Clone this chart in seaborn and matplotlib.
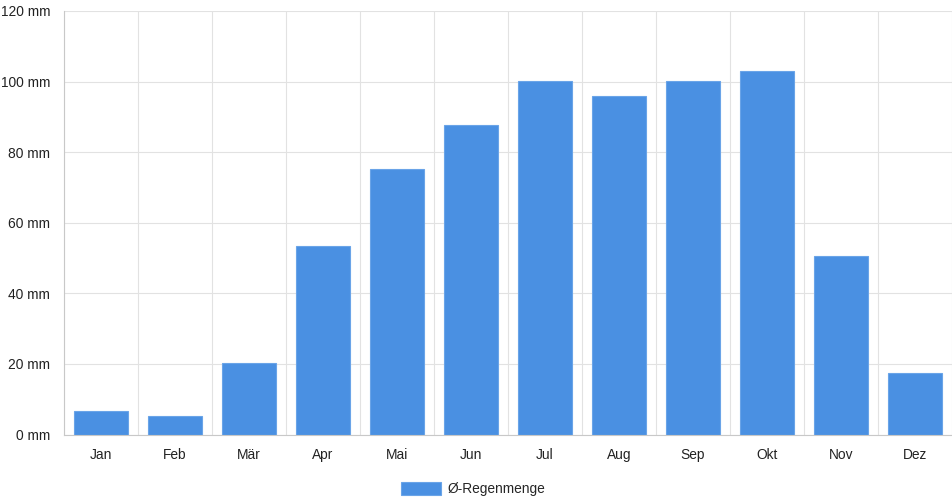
import seaborn as sns
import pandas as pd
import matplotlib.pyplot as plt
from matplotlib.ticker import MultipleLocator, FixedLocator, FuncFormatter

# Monatsnamen und mittlere Regenmenge (mm)
monate = ["Jan", "Feb", "Mär", "Apr", "Mai", "Jun", "Jul", "Aug", "Sep", "Okt", "Nov", "Dez"]
regen = [6.6, 5.3, 20.3, 53.4, 75.1, 87.8, 100.2, 95.9, 100.3, 103.1, 50.5, 17.3]
serie = "Ø-Regenmenge"

df = pd.DataFrame({"Monat": monate, "Regen": regen, "Serie": serie})

sns.set_style("white")
plt.rcParams["font.family"] = ["Liberation Sans", "DejaVu Sans"]

fig = plt.figure(figsize=(9.52, 5.0), dpi=100)
ax = fig.add_axes([64 / 952, 65.5 / 500, 888 / 952, 423.5 / 500])

sns.barplot(data=df, x="Monat", y="Regen", hue="Serie", palette=["#4a90e2"],
            saturation=1, width=0.72, edgecolor="#6aa4e8", linewidth=0.8, ax=ax)

ax.set_ylim(0, 120)
ax.set_xlim(-0.5, len(monate) - 0.5)
ax.yaxis.set_major_locator(MultipleLocator(20))
ax.yaxis.set_major_formatter(FuncFormatter(lambda v, p: f"{v:.0f} mm"))
ax.xaxis.set_minor_locator(FixedLocator([i - 0.5 for i in range(len(monate) + 1)]))

ax.grid(axis="y", color="#e2e2e2", linewidth=0.8)
ax.grid(axis="x", which="minor", color="#e2e2e2", linewidth=0.8)
ax.set_axisbelow(True)

ax.tick_params(axis="y", length=7, color="#d0d0d0", labelsize=9.9, pad=3, labelcolor="#222222")
ax.tick_params(axis="x", which="major", length=0, labelsize=9.9, pad=10, labelcolor="#222222")
ax.tick_params(axis="x", which="minor", length=7, color="#e2e2e2")

for s in ["top", "right"]:
    ax.spines[s].set_visible(False)
for s in ["left", "bottom"]:
    ax.spines[s].set_color("#c8c8c8")
    ax.spines[s].set_linewidth(0.8)

ax.set_xlabel("")
ax.set_ylabel("")

ax.legend(loc="upper center", bbox_to_anchor=(0.5 - 35 / 888, -0.082), frameon=False,
          fontsize=9.9, handlelength=2.9, handleheight=1.1, handletextpad=0.5)

fig.savefig("out.png", dpi=100)
